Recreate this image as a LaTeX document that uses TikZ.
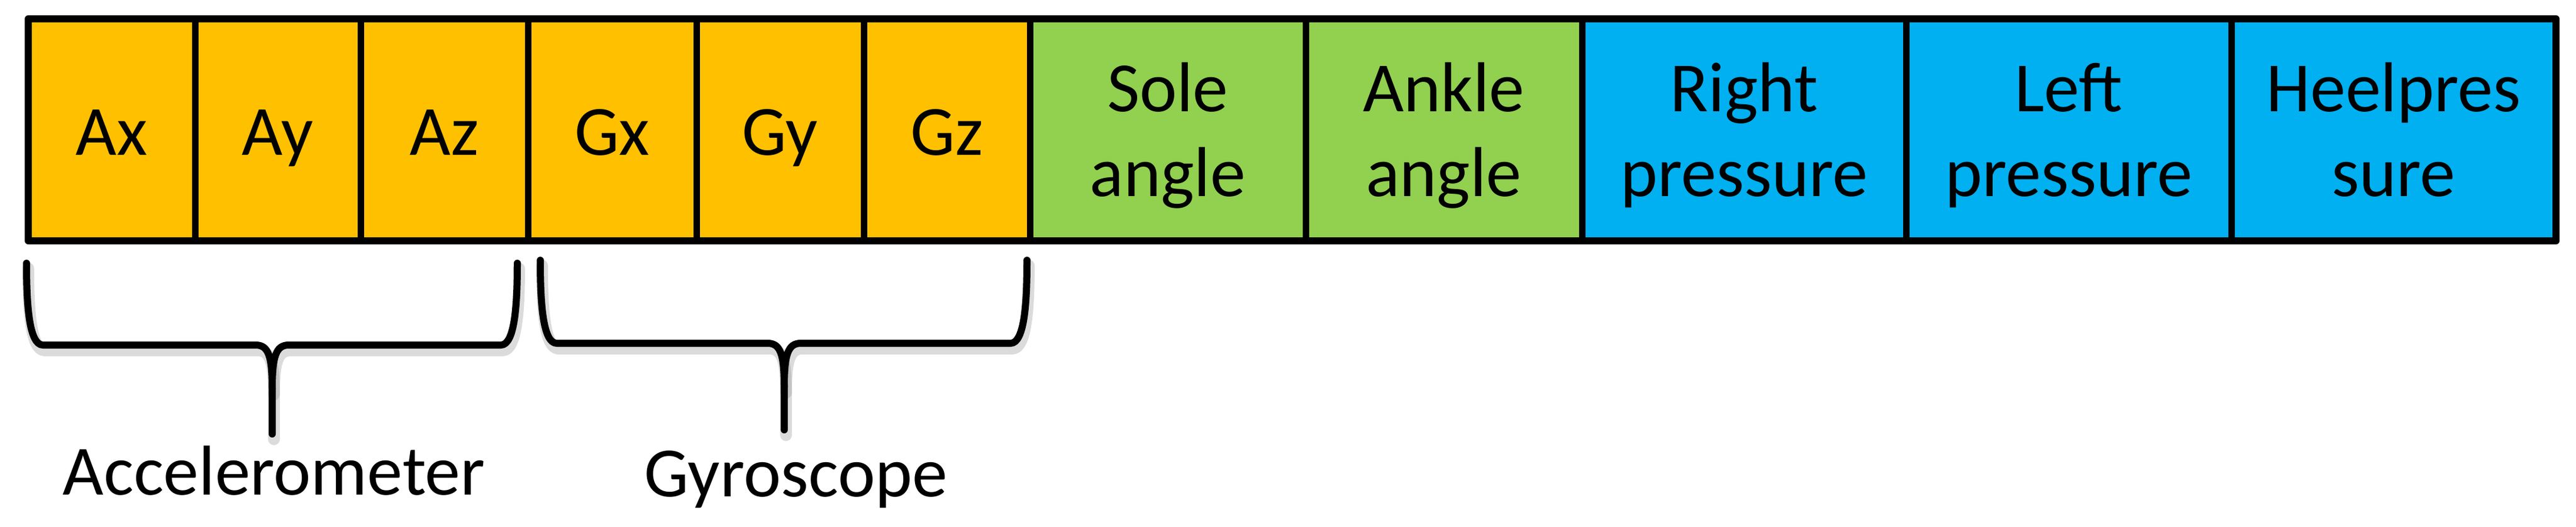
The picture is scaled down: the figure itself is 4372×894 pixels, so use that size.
\documentclass[tikz,border=0pt]{standalone}
\usepackage{fontspec}
\setmainfont{Carlito}
\definecolor{cOrange}{HTML}{FFC000}
\definecolor{cGreen}{HTML}{92D050}
\definecolor{cBlue}{HTML}{00B0F0}
\begin{document}
\begin{tikzpicture}[x=0.2pt,y=-0.2pt,
  cellline/.style={line width=2.2pt, draw=black},
  outer/.style={line width=2.4pt, draw=black, line join=round},
  lbl/.style={font=\fontsize{24pt}{28.8pt}\selectfont, align=center, inner sep=0pt, text=black, anchor=base},
  bracepath/.style={line width=2.4pt, draw=black, line cap=round, line join=round},
  braceshadow/.style={line width=4pt, draw=black!40, opacity=0.35, line cap=round, line join=round}
]
\useasboundingbox (0,0) rectangle (4372,894);
% cell fills
\fill[cOrange] (48,32) rectangle (1748,409);
\fill[cGreen] (1748,32) rectangle (2685,409);
\fill[cBlue] (2685,32) rectangle (4338,409);
% dividers
\foreach \xx in {331,612,896,1182,1466,1748,2216,2685,3235,3787}
  \draw[cellline] (\xx,32) -- (\xx,409);
\draw[outer] (48,32) rectangle (4338,409);
% labels
\node[lbl] (ax) at ({(48+331)/2},263) {Ax};
\node[lbl] (ay) at ({(331+612)/2},263) {Ay};
\node[lbl] (az) at ({(612+896)/2},263) {Az};
\node[lbl] (gx) at ({(896+1182)/2},263) {Gx};
\node[lbl] (gy) at ({(1182+1466)/2},263) {Gy};
\node[lbl] (gz) at ({(1466+1748)/2},263) {Gz};
\node[lbl] (sole) at ({(1748+2216)/2},333) {Sole\\angle};
\node[lbl] (ankle) at ({(2216+2685)/2},333) {Ankle\\angle};
\node[lbl] (rp) at ({(2685+3235)/2},333) {Right\\pressure};
\node[lbl] (lp) at ({(3235+3787)/2},333) {Left\\pressure};
\node[lbl] (hp) at ({(3787+4338)/2},333) {Heelpres\\sure};
% braces
\foreach \xa/\xb/\xc/\yt/\yh/\yp/\sty in {
   45/878/462/447/586/737/braceshadow,
   917/1743/1331/442/583/730/braceshadow}{
  \begin{scope}[shift={(3,9)}]
  \draw[\sty] (\xa,\yt) .. controls (\xa,\yh-70) and (\xa+4,\yh) .. (\xa+28,\yh)
     -- (\xc-28,\yh) .. controls (\xc-6,\yh) and (\xc,\yh+20) .. (\xc,\yh+75) -- (\xc,\yp);
  \draw[\sty] (\xb,\yt) .. controls (\xb,\yh-70) and (\xb-4,\yh) .. (\xb-28,\yh)
     -- (\xc+28,\yh) .. controls (\xc+6,\yh) and (\xc,\yh+20) .. (\xc,\yh+75);
  \end{scope}
}
\foreach \xa/\xb/\xc/\yt/\yh/\yp in {
   45/878/462/447/586/737,
   917/1743/1331/442/583/730}{
  \draw[bracepath] (\xa,\yt) .. controls (\xa,\yh-70) and (\xa+4,\yh) .. (\xa+28,\yh)
     -- (\xc-28,\yh) .. controls (\xc-6,\yh) and (\xc,\yh+20) .. (\xc,\yh+75) -- (\xc,\yp);
  \draw[bracepath] (\xb,\yt) .. controls (\xb,\yh-70) and (\xb-4,\yh) .. (\xb-28,\yh)
     -- (\xc+28,\yh) .. controls (\xc+6,\yh) and (\xc,\yh+20) .. (\xc,\yh+75);
}
\node[lbl] (acc) at (465,840) {Accelerometer};
\node[lbl] (gyro) at (1351,843) {Gyroscope};
\end{tikzpicture}
\end{document}
